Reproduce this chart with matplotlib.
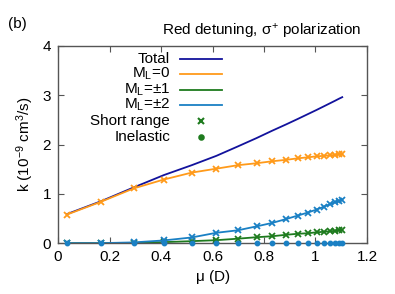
import matplotlib
matplotlib.use("Agg")
import matplotlib.pyplot as plt

plt.rcParams["font.family"] = ["Liberation Sans", "DejaVu Sans"]
plt.rcParams["mathtext.fontset"] = "custom"
plt.rcParams["mathtext.rm"] = "Liberation Sans"
plt.rcParams["mathtext.it"] = "Liberation Sans"

# dipole moment (D)
mu = [0.035, 0.167, 0.294, 0.411, 0.519, 0.615, 0.698, 0.771, 0.832, 0.887,
      0.932, 0.970, 1.004, 1.033, 1.056, 1.076, 1.092, 1.104]
# rate coefficients (1e-9 cm^3/s)
k_total = [0.59, 0.85, 1.13, 1.38, 1.58, 1.77, 1.96, 2.13, 2.28, 2.41,
           2.52, 2.615, 2.70, 2.775, 2.835, 2.887, 2.93, 2.96]
k_ml0 = [0.58, 0.84, 1.11, 1.29, 1.43, 1.51, 1.58, 1.62, 1.66, 1.69,
         1.72, 1.74, 1.76, 1.77, 1.78, 1.79, 1.80, 1.80]
k_ml1 = [0.0, 0.0, 0.005, 0.02, 0.04, 0.06, 0.09, 0.12, 0.14, 0.17,
         0.19, 0.20, 0.22, 0.23, 0.24, 0.25, 0.26, 0.27]
k_ml2 = [0.0, 0.0, 0.015, 0.055, 0.115, 0.21, 0.26, 0.34, 0.41, 0.49,
         0.56, 0.62, 0.68, 0.74, 0.79, 0.83, 0.86, 0.88]
k_inel = [0.0] * len(mu)

c_total = "#12129c"
c_ml0 = "#ff9a1a"
c_ml1 = "#1e7b1e"
c_ml2 = "#1a80c4"
fs = 11

fig = plt.figure(figsize=(3.95, 2.94), dpi=100)
ax = fig.add_axes([0.147, 0.173, 0.782, 0.671])

ax.plot(mu, k_total, color=c_total, lw=1.3)
ax.plot(mu, k_ml0, color=c_ml0, lw=1.3, marker="x", ms=4, mew=1.3)
ax.plot(mu, k_ml1, color=c_ml1, lw=1.3, marker="x", ms=4, mew=1.3)
ax.plot(mu, k_ml2, color=c_ml2, lw=1.3, marker="x", ms=4, mew=1.3)
ax.plot(mu, k_inel, ls="none", color=c_ml2, marker="o", ms=3.2, clip_on=False, zorder=5)

ax.set_xlim(0, 1.2)
ax.set_ylim(0, 4)
ax.set_xticks([0, 0.2, 0.4, 0.6, 0.8, 1, 1.2])
ax.set_xticklabels(["0", "0.2", "0.4", "0.6", "0.8", "1", "1.2"])
ax.set_yticks([0, 1, 2, 3, 4])
ax.tick_params(direction="in", top=True, right=True, length=4, width=0.8,
               color="#555555", labelsize=fs, pad=5)
for s in ax.spines.values():
    s.set_color("#555555")
    s.set_linewidth(1.0)

ax.set_xlabel(r"$\mathrm{\mu}$ (D)", fontsize=fs, labelpad=3)
ax.set_ylabel(r"k (10$^{-9}$ cm$^{3}$/s)", fontsize=fs, labelpad=5)

fig.text(361 / 395, 1 - 31 / 294, r"Red detuning, $\sigma^{+}$ polarization",
         ha="right", va="center", fontsize=fs)
fig.text(8 / 395, 1 - 24 / 294, "(b)", ha="left", va="center", fontsize=fs)

# legend drawn gnuplot style: right aligned text then sample
labels = ["Total", r"M$_\mathrm{L}$=0", r"M$_\mathrm{L}$=$\pm$1", r"M$_\mathrm{L}$=$\pm$2",
          "Short range", "Inelastic"]
rows_y = [59, 74, 90, 105, 121, 137]
for lab, py in zip(labels, rows_y):
    fig.text(170 / 395, 1 - py / 294, lab, ha="right", va="center", fontsize=fs)
samples = [(c_total, "-", None), (c_ml0, "-", None), (c_ml1, "-", None),
           (c_ml2, "-", None), (c_ml1, "none", "x"), (c_ml1, "none", "o")]
for (col, ls, mk), py in zip(samples, rows_y):
    yy = 1 - py / 294
    if mk is None:
        fig.add_artist(plt.Line2D([180 / 395, 222 / 395], [yy, yy], color=col, lw=1.3))
    else:
        fig.add_artist(plt.Line2D([201 / 395], [yy], color=col, ls="none", marker=mk,
                                  ms=4 if mk == "x" else 3.2, mew=1.5))

fig.savefig("out.png", dpi=100)
